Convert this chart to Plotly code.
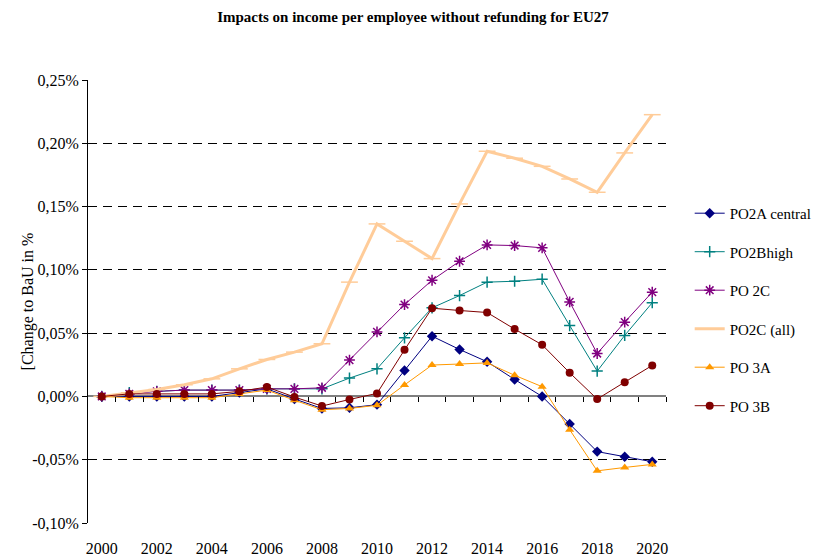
import plotly.graph_objects as go

years = list(range(2000, 2021))

po2a_central = [0.0, 0.0, 0.0, 0.0, 0.0, 0.003, 0.006, -0.002, -0.0095, -0.009, -0.0065,
                0.0205, 0.0476, 0.0371, 0.0274, 0.0134, 0.0, -0.0218, -0.0436, -0.0476, -0.0516]
po2b_high = [0.0, 0.003, 0.004, 0.005, 0.005, 0.005, 0.006, 0.006, 0.006, 0.0145, 0.0218,
             0.0463, 0.070, 0.0797, 0.0903, 0.091, 0.0926, 0.056, 0.020, 0.0482, 0.074]
po_2c = [0.0, 0.002, 0.004, 0.005, 0.005, 0.005, 0.006, 0.006, 0.0068, 0.0287, 0.051,
         0.0726, 0.0918, 0.1068, 0.1197, 0.1192, 0.1174, 0.0747, 0.0339, 0.0587, 0.0824]
po2c_all = [0.0, 0.0029, 0.0055, 0.0092, 0.0139, 0.0218, 0.0292, 0.035, 0.0416, 0.0903, 0.1363,
            0.1226, 0.1089, 0.1521, 0.1937, 0.1882, 0.1818, 0.1718, 0.1613, 0.1924, 0.2226]
po_3a = [0.0, -0.001, -0.001, -0.001, -0.001, 0.002, 0.005, -0.003, -0.0105, -0.0095, -0.007,
         0.0091, 0.0248, 0.0256, 0.0265, 0.0167, 0.0077, -0.0263, -0.0588, -0.0561, -0.0537]
po_3b = [0.0, 0.002, 0.002, 0.002, 0.002, 0.004, 0.0074, -0.0005, -0.0076, -0.0024, 0.0024,
         0.0368, 0.0697, 0.0679, 0.0663, 0.0532, 0.0408, 0.0187, -0.0021, 0.0113, 0.0245]

ytick_vals = [-0.10, -0.05, 0.0, 0.05, 0.10, 0.15, 0.20, 0.25]
ytick_text = ["-0,10%", "-0,05%", "0,00%", "0,05%", "0,10%", "0,15%", "0,20%", "0,25%"]
xtick_vals = list(range(2000, 2021, 2))

serif = "Liberation Serif, DejaVu Serif, serif"

fig = go.Figure()

# name, data, colour, line width, marker symbol, marker size
series = [
    ("PO2A central", po2a_central, "#000080", 1, "diamond", 8),
    ("PO2Bhigh", po2b_high, "#008080", 1, "cross-thin", 8),
    ("PO 2C", po_2c, "#800080", 1, "asterisk", 9),
    ("PO2C (all)", po2c_all, "#FFCC99", 3, "line-ew", 12),
    ("PO 3A", po_3a, "#FF9900", 1, "triangle-up", 8),
    ("PO 3B", po_3b, "#800000", 1, "circle", 8),
]

for name, vals, col, lw, sym, ms in series:
    fig.add_trace(go.Scatter(
        x=years, y=vals, name=name, legendgroup=name,
        mode="lines+markers",
        line=dict(color=col, width=lw),
        marker=dict(symbol=sym, size=ms, color=col,
                    line=dict(color=col, width=1.5 if sym in ("cross-thin", "asterisk", "line-ew") else 0)),
    ))

# dummy trace so the tick axis on the zero line gets drawn
fig.add_trace(go.Scatter(x=[years[0]], y=[None], xaxis="x2", showlegend=False,
                         hoverinfo="skip", mode="lines"))

# page has an 8px body margin, so the figure is 8px smaller than the window
fig.update_layout(
    width=814, height=548,
    margin=dict(l=80, r=156, t=72, b=33, autoexpand=False),
    plot_bgcolor="white", paper_bgcolor="white",
    font=dict(family=serif, size=16, color="black"),
    title=dict(text="<b>Impacts on income per employee without refunding for EU27</b>",
               font=dict(size=15), x=405 / 814, xref="container", y=1 - 9 / 548,
               xanchor="center", yanchor="middle"),
    xaxis=dict(range=[1999.5, 2020.5], tickvals=xtick_vals, showgrid=False,
               showline=False, zeroline=False, ticks="", ticklabelstandoff=14,
               automargin=False),
    xaxis2=dict(range=[1999.5, 2020.5], overlaying="x", anchor="free",
                position=0.10 / 0.35, side="bottom",
                tickvals=[y + 0.5 for y in years], ticks="outside", ticklen=5,
                tickcolor="black", showticklabels=False, showgrid=False,
                showline=False, zeroline=False, automargin=False),
    yaxis=dict(range=[-0.10, 0.25], tickvals=ytick_vals, ticktext=ytick_text,
               showline=True, linecolor="black", linewidth=1,
               ticks="outside", ticklen=5, tickcolor="black", automargin=False,
               showgrid=True, gridcolor="black", gridwidth=1, griddash="9px,6px",
               zeroline=True, zerolinecolor="#808080", zerolinewidth=2),
    legend=dict(x=1.041, y=0.736, xanchor="left", yanchor="top",
                font=dict(size=15), tracegroupgap=16, borderwidth=0,
                bgcolor="rgba(0,0,0,0)"),
    showlegend=True,
)

fig.add_annotation(text="[Change to BaU in %", textangle=-90, x=-0.104, y=0.5,
                   xref="paper", yref="paper", showarrow=False,
                   xanchor="center", yanchor="middle", font=dict(size=16))

fig.write_html("out.html")
